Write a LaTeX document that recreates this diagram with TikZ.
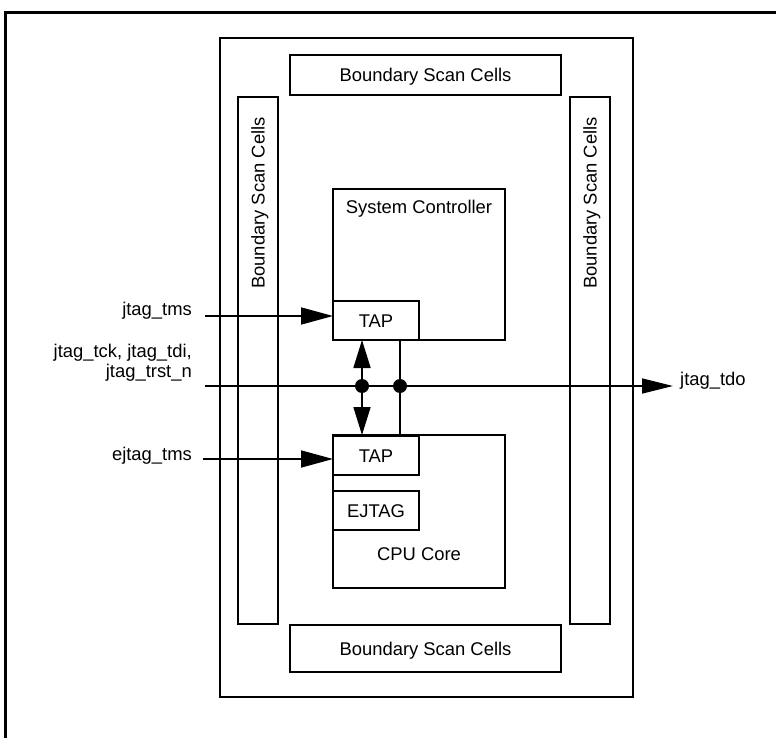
\documentclass[tikz,border=0pt]{standalone}
\usepackage{fontspec}
\setmainfont{Liberation Sans}
\usetikzlibrary{arrows.meta}
\tikzset{
  x=1pt, y=-1pt,
  every node/.style={font=\fontsize{18.4}{20}\selectfont},
  box/.style={draw, line width=1.7pt, inner sep=0pt, outer sep=0pt, text height=13.2pt, text depth=0pt},
  lbl/.style={inner sep=0pt, text height=13.2pt, text depth=0pt},
  pin/.style={inner sep=0pt},
  wire/.style={line width=1.7pt},
  dotnode/.style={circle, fill, inner sep=0pt, minimum size=14pt},
  tip/.style={-{Triangle[length=32pt,width=17pt]}},
}
\begin{document}
\begin{tikzpicture}
\useasboundingbox (0,0) rectangle (776,738);
\clip (0,0) rectangle (776,738);
% outer frame (partly outside the picture)
\draw[line width=3pt] (5.5,760) -- (5.5,12.5) -- (800,12.5);
% chip
\node[box, minimum width=413pt, minimum height=659pt] (chip) at (426.5,367.5) {};
\node[box, minimum width=271pt, minimum height=40pt] (bsctop) at (425.5,75) {Boundary Scan Cells};
\node[box, minimum width=271pt, minimum height=47pt] (bscbot) at (425.5,648.5) {Boundary Scan Cells};
\node[box, minimum width=40pt, minimum height=527pt] (bscleft) at (258,360.5) {};
\node[box, minimum width=40pt, minimum height=527pt] (bscright) at (590,360.5) {};
\node[lbl, rotate=90] (bscleftlbl) at (258,203) {Boundary Scan Cells};
\node[lbl, rotate=90] (bscrightlbl) at (590,203) {Boundary Scan Cells};
% system controller
\node[box, minimum width=172pt, minimum height=151pt] (sys) at (419,264.5) {};
\node[lbl] (syslbl) at (419,207) {System Controller};
\node[box, minimum width=86pt, minimum height=39pt] (tapa) at (376,320.5) {TAP};
% cpu core
\node[box, minimum width=172pt, minimum height=153pt] (cpu) at (419,511.5) {};
\node[box, minimum width=86pt, minimum height=39pt] (tapb) at (376,455.5) {TAP};
\node[box, minimum width=86pt, minimum height=39pt] (ejtag) at (376,510.5) {EJTAG};
\node[lbl] (cpulbl) at (419,554) {CPU Core};
% pins
\node[pin, anchor=base east] (tmslbl) at (192,315) {jtag\_tms};
\node[pin, anchor=base east, align=right] (tcklbl) at (192,377.3) {jtag\_tck, jtag\_tdi,\\jtag\_trst\_n};
\node[pin, anchor=base east] (ejtmslbl) at (192,460.7) {ejtag\_tms};
\node[pin, anchor=base west] (tdolbl) at (680,385.7) {jtag\_tdo};
\coordinate (tmsS) at (205,316);
\coordinate (ejS) at (203,459);
\coordinate (tckS) at (205,386);
\coordinate (tdoE) at (673,386);
\node[dotnode] (d1) at (362,386) {};
\node[dotnode] (d2) at (400,386) {};
% connectors
\draw[wire, tip] (tmsS) -- (tmsS -| tapa.west);
\draw[wire, tip] (ejS) -- (ejS -| tapb.west);
\draw[wire, -{Triangle[length=31pt,width=15pt]}] (tckS) -- (tdoE);
\draw[wire, {Triangle[length=28pt,width=17pt]}-{Triangle[length=28pt,width=17pt]}] (d1 |- tapa.south) -- (d1 |- cpu.north);
\draw[wire] (d2 |- tapa.south) -- (d2 |- cpu.north);
\end{tikzpicture}
\end{document}
